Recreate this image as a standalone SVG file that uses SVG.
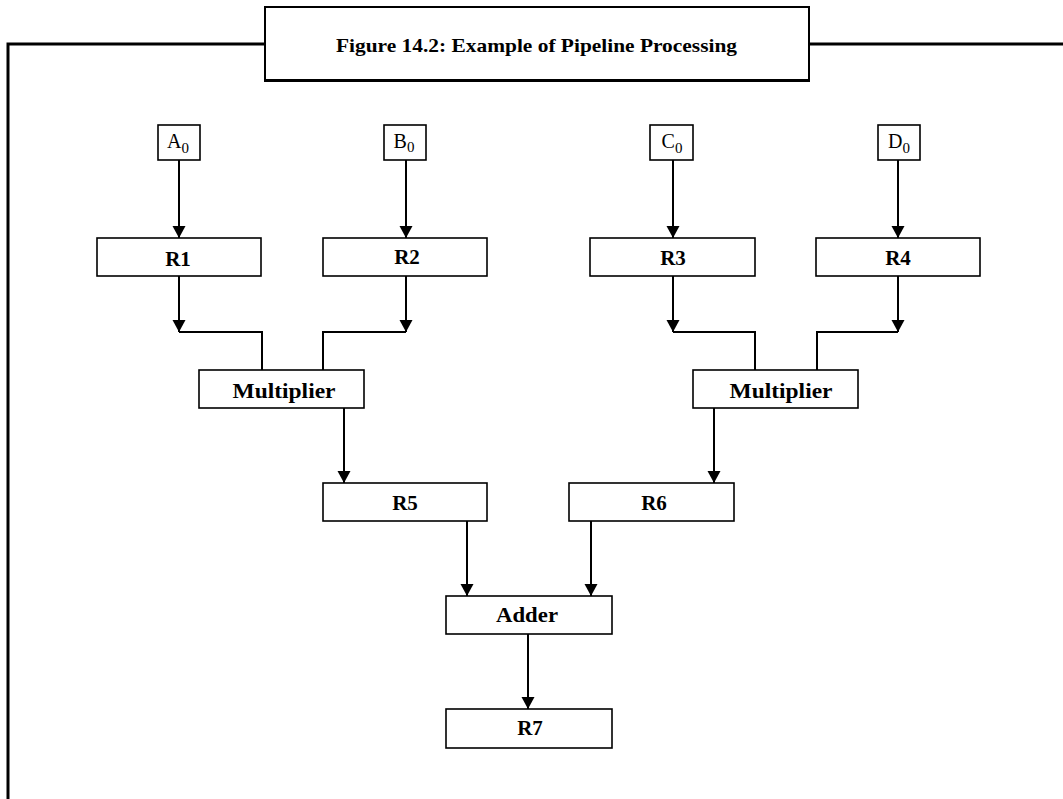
<svg xmlns="http://www.w3.org/2000/svg" width="1063" height="799" viewBox="0 0 1063 799">
  <style>
    .box { fill: #fff; stroke: #000; stroke-width: 1.6; }
    .lbl { font-family: "Liberation Serif", serif; font-weight: bold; font-size: 21px; text-anchor: middle; fill: #000; }
    .inp { font-family: "Liberation Serif", serif; font-weight: normal; font-size: 20px; text-anchor: middle; fill: #000; }
    .sub { font-size: 15px; }
    .wire { fill: none; stroke: #000; stroke-width: 2; }
    .frame { fill: none; stroke: #000; stroke-width: 3; }
  </style>
  <defs>
    <marker id="arrow" markerUnits="userSpaceOnUse" markerWidth="14" markerHeight="14" refX="12" refY="6.5" orient="auto">
      <path d="M0,0 L12,6.5 L0,13 Z" fill="#000"/>
    </marker>
  </defs>
  <rect width="1063" height="799" fill="#fff"/>

  <!-- page frame and caption -->
  <g id="frame">
    <path class="frame" d="M8,799 V44 H264"/>
    <line class="frame" x1="809" y1="44" x2="1063" y2="44"/>
    <rect x="265" y="7" width="544" height="74" fill="#fff" stroke="#000" stroke-width="2"/>
    <line x1="264" y1="80.5" x2="810" y2="80.5" stroke="#000" stroke-width="3"/>
    <text x="536.5" y="52" font-family="Liberation Serif, serif" font-size="19" font-weight="bold" text-anchor="middle" textLength="401" lengthAdjust="spacingAndGlyphs">Figure 14.2: Example of Pipeline Processing</text>
  </g>

  <!-- connectors -->
  <g id="connectors">
    <line class="wire" x1="179" y1="160" x2="179" y2="238" marker-end="url(#arrow)"/>
    <line class="wire" x1="406" y1="160" x2="406" y2="238" marker-end="url(#arrow)"/>
    <line class="wire" x1="673" y1="160" x2="673" y2="238" marker-end="url(#arrow)"/>
    <line class="wire" x1="898" y1="160" x2="898" y2="238" marker-end="url(#arrow)"/>

    <line class="wire" x1="179" y1="276" x2="179" y2="332" marker-end="url(#arrow)"/>
    <path class="wire" d="M179,332 H262 V370"/>
    <line class="wire" x1="406" y1="276" x2="406" y2="332" marker-end="url(#arrow)"/>
    <path class="wire" d="M406,332 H323 V370"/>

    <line class="wire" x1="673" y1="276" x2="673" y2="332" marker-end="url(#arrow)"/>
    <path class="wire" d="M673,332 H755 V370"/>
    <line class="wire" x1="898" y1="276" x2="898" y2="332" marker-end="url(#arrow)"/>
    <path class="wire" d="M898,332 H817 V370"/>

    <line class="wire" x1="344" y1="408" x2="344" y2="483" marker-end="url(#arrow)"/>
    <line class="wire" x1="714" y1="408" x2="714" y2="483" marker-end="url(#arrow)"/>

    <line class="wire" x1="467" y1="521" x2="467" y2="596" marker-end="url(#arrow)"/>
    <line class="wire" x1="591" y1="521" x2="591" y2="596" marker-end="url(#arrow)"/>

    <line class="wire" x1="528" y1="634" x2="528" y2="709" marker-end="url(#arrow)"/>
  </g>

  <!-- inputs -->
  <g id="A0">
    <rect class="box" x="158" y="125" width="42" height="35"/>
    <text class="inp" x="178" y="148">A<tspan class="sub" dy="5">0</tspan></text>
  </g>
  <g id="B0">
    <rect class="box" x="384" y="125" width="42" height="35"/>
    <text class="inp" x="404" y="148">B<tspan class="sub" dy="4">0</tspan></text>
  </g>
  <g id="C0">
    <rect class="box" x="650" y="125" width="43" height="35"/>
    <text class="inp" x="672" y="148">C<tspan class="sub" dy="5">0</tspan></text>
  </g>
  <g id="D0">
    <rect class="box" x="878" y="125" width="42" height="35"/>
    <text class="inp" x="899" y="148">D<tspan class="sub" dy="5">0</tspan></text>
  </g>

  <!-- registers -->
  <g id="R1">
    <rect class="box" x="97" y="238" width="164" height="38"/>
    <text class="lbl" x="178" y="266">R1</text>
  </g>
  <g id="R2">
    <rect class="box" x="323" y="238" width="164" height="38"/>
    <text class="lbl" x="407" y="264">R2</text>
  </g>
  <g id="R3">
    <rect class="box" x="590" y="238" width="165" height="38"/>
    <text class="lbl" x="673" y="265">R3</text>
  </g>
  <g id="R4">
    <rect class="box" x="816" y="238" width="164" height="38"/>
    <text class="lbl" x="898" y="265">R4</text>
  </g>

  <!-- multipliers -->
  <g id="Multiplier1">
    <rect class="box" x="199" y="370" width="165" height="38"/>
    <text class="lbl" x="284" y="398" textLength="103" lengthAdjust="spacingAndGlyphs">Multiplier</text>
  </g>
  <g id="Multiplier2">
    <rect class="box" x="693" y="370" width="165" height="38"/>
    <text class="lbl" x="781" y="398" textLength="103" lengthAdjust="spacingAndGlyphs">Multiplier</text>
  </g>

  <g id="R5">
    <rect class="box" x="323" y="483" width="164" height="38"/>
    <text class="lbl" x="405" y="510">R5</text>
  </g>
  <g id="R6">
    <rect class="box" x="569" y="483" width="165" height="38"/>
    <text class="lbl" x="654" y="510">R6</text>
  </g>

  <g id="Adder">
    <rect class="box" x="446" y="596" width="166" height="38"/>
    <text class="lbl" x="527" y="622" textLength="62" lengthAdjust="spacingAndGlyphs">Adder</text>
  </g>
  <g id="R7">
    <rect class="box" x="446" y="709" width="166" height="39"/>
    <text class="lbl" x="530" y="735">R7</text>
  </g>
</svg>
